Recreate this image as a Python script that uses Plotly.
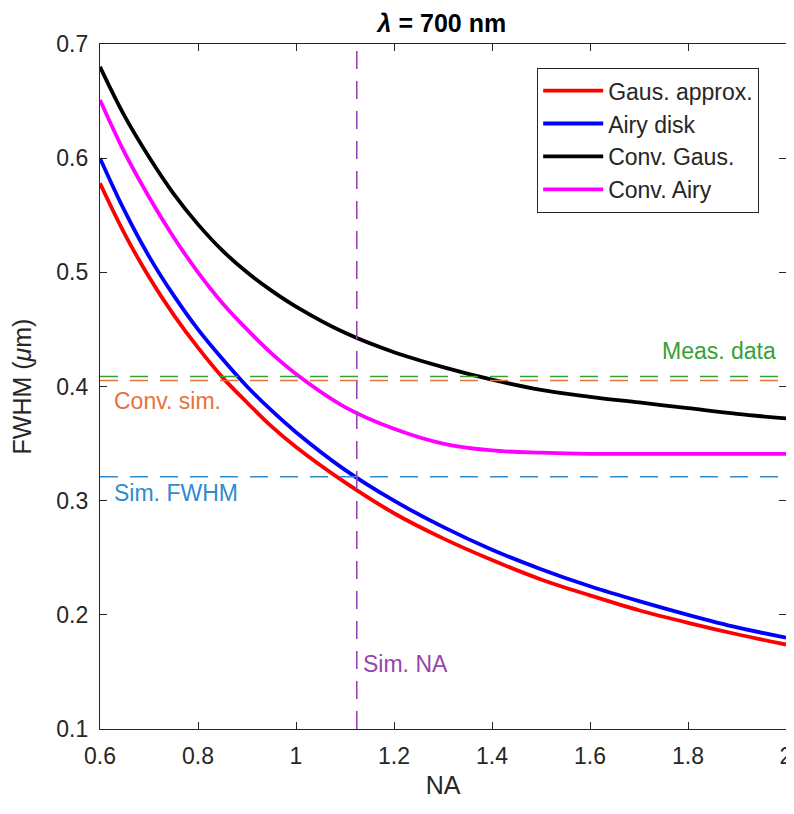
import plotly.graph_objects as go

na = [0.6, 0.65, 0.7, 0.75, 0.8, 0.85, 0.9, 0.95, 1.0, 1.1, 1.2, 1.3, 1.4, 1.5, 1.6, 1.7, 1.8, 1.9, 2.0]
gaus_approx = [0.578, 0.534, 0.496, 0.463, 0.434, 0.408, 0.386, 0.365, 0.347, 0.316, 0.289, 0.267, 0.248, 0.231, 0.217, 0.204, 0.193, 0.183, 0.174]
airy_disk = [0.600, 0.554, 0.514, 0.480, 0.450, 0.424, 0.400, 0.379, 0.360, 0.327, 0.300, 0.277, 0.257, 0.240, 0.225, 0.212, 0.200, 0.189, 0.180]
conv_gaus = [0.680, 0.637, 0.601, 0.569, 0.542, 0.519, 0.500, 0.484, 0.470, 0.447, 0.430, 0.417, 0.406, 0.397, 0.391, 0.386, 0.381, 0.376, 0.372]
conv_airy = [0.651, 0.605, 0.566, 0.531, 0.500, 0.473, 0.450, 0.429, 0.411, 0.382, 0.363, 0.350, 0.344, 0.342, 0.341, 0.341, 0.341, 0.341, 0.341]

series_names = ["Gaus. approx.", "Airy disk", "Conv. Gaus.", "Conv. Airy"]
series_colors = ["#FF0000", "#0000FF", "#000000", "#FF00FF"]

meas_data = 0.4087
conv_sim = 0.4052
sim_fwhm = 0.321
sim_na = 1.124

x_ticks = [0.6, 0.8, 1.0, 1.2, 1.4, 1.6, 1.8, 2.0]
x_ticklabels = ["0.6", "0.8", "1", "1.2", "1.4", "1.6", "1.8", "2"]
y_ticks = [0.1, 0.2, 0.3, 0.4, 0.5, 0.6, 0.7]
y_ticklabels = ["0.1", "0.2", "0.3", "0.4", "0.5", "0.6", "0.7"]

FONT = "Liberation Sans, Arial, sans-serif"
AX = "#262626"
FS = 23

fig = go.Figure()

for i, (name, col, vals) in enumerate(zip(series_names, series_colors,
                                          [gaus_approx, airy_disk, conv_gaus, conv_airy])):
    fig.add_trace(go.Scatter(x=na, y=vals, mode="lines", name=name, legendgroup="g%d" % i,
                             line=dict(color=col, width=3.8, shape="spline", smoothing=1.0)))

green = "#35A135"
orange = "#E5733C"
blue = "#2F8BD0"
purple = "#9646AE"
dash = "18px,12px"

for yv, col in [(meas_data, green), (conv_sim, orange), (sim_fwhm, blue)]:
    fig.add_trace(go.Scatter(x=[0.6, 2.0], y=[yv, yv], mode="lines", showlegend=False,
                             line=dict(color=col, width=1.6, dash=dash), hoverinfo="skip"))
fig.add_trace(go.Scatter(x=[sim_na, sim_na], y=[0.1, 0.7], mode="lines", showlegend=False,
                         line=dict(color=purple, width=1.6, dash=dash), hoverinfo="skip"))

ann_font = lambda c: dict(family=FONT, size=FS, color=c)
fig.add_annotation(x=2.0, y=meas_data, text="Meas. data", showarrow=False,
                   xanchor="right", yanchor="middle", xshift=-8, yshift=26, font=ann_font(green))
fig.add_annotation(x=0.6, y=conv_sim, text="Conv. sim.", showarrow=False,
                   xanchor="left", yanchor="middle", xshift=12, yshift=-20, font=ann_font(orange))
fig.add_annotation(x=0.6, y=sim_fwhm, text="Sim. FWHM", showarrow=False,
                   xanchor="left", yanchor="middle", xshift=12, yshift=-16, font=ann_font(blue))
fig.add_annotation(x=sim_na, y=0.157, text="Sim. NA", showarrow=False,
                   xanchor="left", yanchor="middle", xshift=4, font=ann_font(purple))

axis_common = dict(showline=True, linecolor=AX, linewidth=1.2, mirror="ticks",
                   ticks="inside", ticklen=7, tickwidth=1, tickcolor=AX,
                   showgrid=False, zeroline=False, automargin=False,
                   tickfont=dict(family=FONT, size=FS, color=AX))

# page body has an 8px margin, so the figure is 8px smaller and shifted
fig.update_layout(
    width=786, height=806,
    margin=dict(l=92, r=8, t=36, b=85),
    paper_bgcolor="white", plot_bgcolor="white",
    title=dict(text="<b><i>λ</i> = 700 nm</b>", x=0.552, xanchor="center", y=0.9814, yanchor="middle",
               pad=dict(t=0, b=0),
               font=dict(family=FONT, size=25, color="#000000")),
    xaxis=dict(range=[0.6, 2.0], tickvals=x_ticks, ticktext=x_ticklabels,
               ticklabelstandoff=6,
               title=dict(text="NA", font=dict(family=FONT, size=25, color=AX), standoff=8),
               **axis_common),
    yaxis=dict(range=[0.1, 0.7], tickvals=y_ticks, ticktext=y_ticklabels,
               ticklabelstandoff=6,
               title=dict(text="FWHM (<i>μ</i>m)", font=dict(family=FONT, size=25, color=AX), standoff=18),
               **axis_common),
    legend=dict(x=0.9606, y=0.965, xanchor="right", yanchor="top",
                bordercolor=AX, borderwidth=1.2, bgcolor="white",
                font=dict(family=FONT, size=FS, color=AX),
                tracegroupgap=0, itemwidth=60),
    showlegend=True,
)

fig.write_html("out.html")
